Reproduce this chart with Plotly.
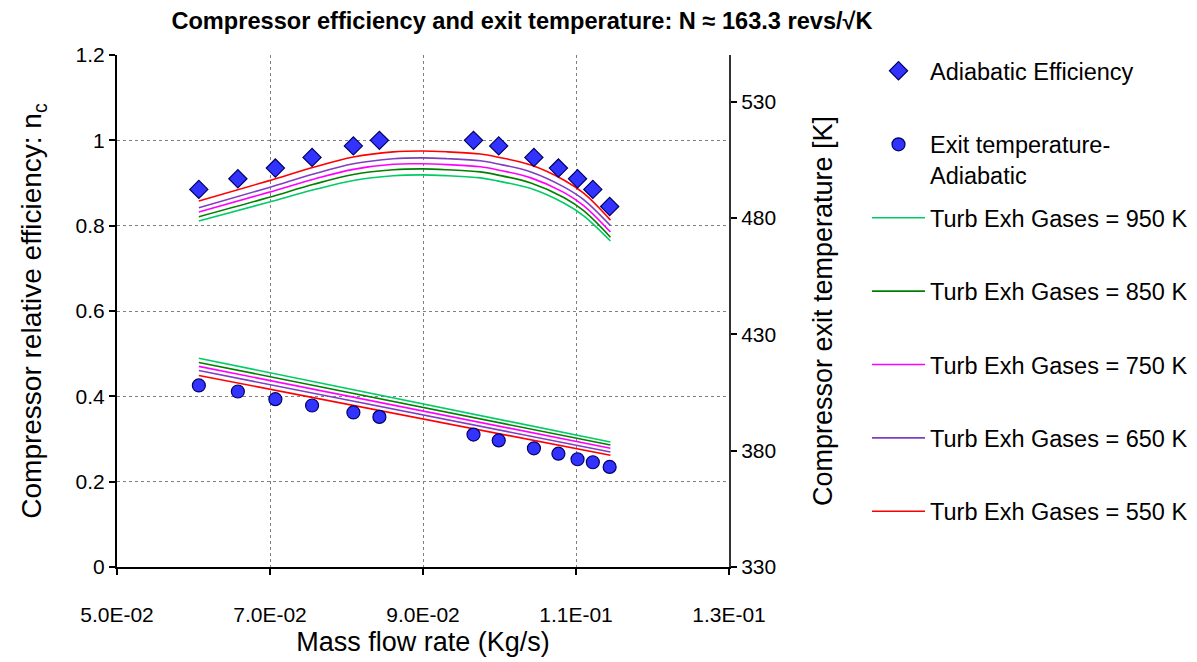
import plotly.graph_objects as go

# ---------------- data ----------------
mass_flow_pts = [0.0607, 0.0658, 0.0707, 0.0755, 0.0809, 0.0843, 0.0966,
                 0.0999, 0.1045, 0.1077, 0.1102, 0.1122, 0.1144]
adiabatic_eff = [0.885, 0.910, 0.935, 0.960, 0.987, 1.000, 1.000,
                 0.987, 0.960, 0.935, 0.910, 0.885, 0.845]
exit_temp_adiabatic = [408.0, 405.4, 402.1, 399.4, 396.4, 394.5, 386.9,
                       384.4, 381.0, 378.7, 376.3, 375.0, 373.0]

curve_flow = [0.0607, 0.0698, 0.0757, 0.0809, 0.0861, 0.0899, 0.0932,
              0.0975, 0.0997, 0.1041, 0.1084, 0.1110, 0.1145]
turb_labels = ["950 K", "850 K", "750 K", "650 K", "550 K"]
eff_950 = [0.811, 0.855, 0.884, 0.906, 0.917, 0.919, 0.917, 0.912, 0.905, 0.887, 0.853, 0.823, 0.764]
eff_850 = [0.821, 0.866, 0.897, 0.920, 0.931, 0.933, 0.931, 0.926, 0.919, 0.900, 0.866, 0.835, 0.773]
eff_750 = [0.832, 0.878, 0.909, 0.932, 0.944, 0.945, 0.943, 0.938, 0.931, 0.912, 0.878, 0.847, 0.785]
eff_650 = [0.842, 0.889, 0.921, 0.945, 0.957, 0.959, 0.957, 0.952, 0.945, 0.926, 0.891, 0.861, 0.800]
eff_550 = [0.858, 0.905, 0.937, 0.961, 0.973, 0.975, 0.973, 0.968, 0.961, 0.942, 0.907, 0.876, 0.813]

temp_flow = [0.0607, 0.1145]
temp_950 = [419.7, 383.7]
temp_850 = [417.9, 382.4]
temp_750 = [416.2, 381.0]
temp_650 = [414.4, 379.4]
temp_550 = [412.3, 378.0]

x_tickvals = [0.05, 0.07, 0.09, 0.11, 0.13]
x_ticktext = ["5.0E-02", "7.0E-02", "9.0E-02", "1.1E-01", "1.3E-01"]
y_tickvals = [0, 0.2, 0.4, 0.6, 0.8, 1.0, 1.2]
y_ticktext = ["0", "0.2", "0.4", "0.6", "0.8", "1", "1.2"]
y2_tickvals = [330, 380, 430, 480, 530]

colors = ["#00CC66", "#008000", "#FF00FF", "#7F3FBF", "#FF0000"]
eff_curves = [eff_950, eff_850, eff_750, eff_650, eff_550]
temp_curves = [temp_950, temp_850, temp_750, temp_650, temp_550]

FONT = "Arial, 'Liberation Sans', sans-serif"
NB = "\u00a0"

fig = go.Figure()

for lab, col, ec, tc in zip(turb_labels, colors, eff_curves, temp_curves):
    fig.add_trace(go.Scatter(
        x=curve_flow, y=ec, mode="lines", line=dict(color=col, width=1.6, shape="spline"),
        name="Turb Exh Gases = " + lab, legend="legend2", showlegend=True,
        legendgroup=lab, hoverinfo="skip"))
    fig.add_trace(go.Scatter(
        x=temp_flow, y=tc, mode="lines", line=dict(color=col, width=1.6),
        yaxis="y2", showlegend=False, legendgroup=lab, hoverinfo="skip"))

fig.add_trace(go.Scatter(
    x=mass_flow_pts, y=adiabatic_eff, mode="markers", name="Adiabatic Efficiency",
    marker=dict(symbol="diamond", size=14, color="#3333FF",
                line=dict(color="#000066", width=1.2)),
    legend="legend", legendgroup="a"))
fig.add_trace(go.Scatter(
    x=mass_flow_pts, y=exit_temp_adiabatic, mode="markers", yaxis="y2",
    name="Exit temperature-<br>Adiabatic",
    marker=dict(symbol="circle", size=13, color="#3333FF",
                line=dict(color="#000066", width=1.2)),
    legend="legend", legendgroup="b"))

fig.update_layout(
    width=1197, height=662,
    margin=dict(l=117, r=468, t=55, b=95),
    paper_bgcolor="white", plot_bgcolor="white",
    font=dict(family=FONT, color="black", size=21),
    title=dict(text="<b>Compressor efficiency and exit temperature: N ≈ 163.3 revs/√K</b>",
               font=dict(family=FONT, size=23.6),
               x=522/1197, xanchor="center", xref="container",
               y=1 - 21/662, yanchor="middle", yref="container"),
    xaxis=dict(range=[0.05, 0.13], tickvals=x_tickvals, ticktext=x_ticktext,
               showline=True, linecolor="black", linewidth=2, automargin=False,
               ticks="outside", ticklen=6, tickcolor="black", tickwidth=1.5,
               showgrid=True, gridcolor="#808080", griddash="dot", gridwidth=1,
               zeroline=False, ticklabelstandoff=22,
               tickfont=dict(size=21),
               title=dict(text="Mass flow rate (Kg/s)", font=dict(size=27), standoff=7)),
    yaxis=dict(range=[0, 1.2], tickvals=y_tickvals, ticktext=y_ticktext,
               showline=True, linecolor="black", linewidth=2, automargin=False,
               ticks="outside", ticklen=6, tickcolor="black", tickwidth=1.5,
               showgrid=True, gridcolor="#808080", griddash="dot", gridwidth=1,
               zeroline=False, tickfont=dict(size=21),
               title=dict(text="Compressor relative efficiency: n<sub>c</sub>",
                          font=dict(size=28), standoff=26)),
    yaxis2=dict(range=[330, 550], tickvals=y2_tickvals, overlaying="y", side="right",
                showline=True, linecolor="#333333", linewidth=2, automargin=False,
                ticks="outside", ticklen=6, tickcolor="black", tickwidth=1.5,
                showgrid=False, zeroline=False, tickfont=dict(size=21),
                title=dict(text=NB * 14 + "Compressor exit temperature [K]",
                           font=dict(size=27), standoff=38)),
    legend=dict(x=867/1197, y=1 - 49/662, xref="container", yref="container",
                xanchor="left", yanchor="top", font=dict(size=23.5),
                tracegroupgap=40, valign="top", itemwidth=53,
                bgcolor="rgba(0,0,0,0)", maxheight=400),
    legend2=dict(x=867/1197, y=1 - 196/662, xref="container", yref="container",
                 xanchor="left", yanchor="top", font=dict(size=23.5),
                 tracegroupgap=39.8, valign="middle", itemwidth=53,
                 bgcolor="rgba(0,0,0,0)", maxheight=600),
    showlegend=True,
)

fig.write_html("out.html")
